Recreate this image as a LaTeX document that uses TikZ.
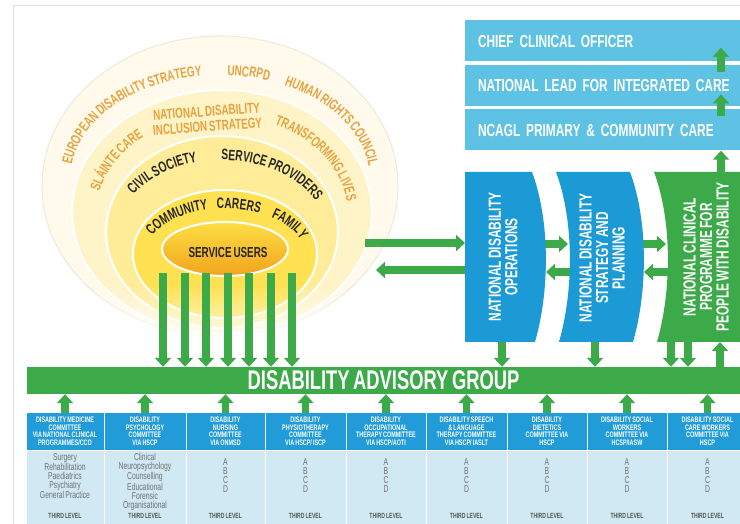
\documentclass[tikz,border=0pt]{standalone}
\usepackage{fontspec}
\setmainfont{Liberation Sans}
\newfontfamily\cond{Liberation Sans}[FakeStretch=0.68, WordSpace=0.7]
\usetikzlibrary{arrows.meta,decorations.text,fadings}
\definecolor{grn}{HTML}{3DAA49}
\definecolor{dblue}{HTML}{1C9AD6}
\definecolor{lblue}{HTML}{5EC2E4}
\definecolor{hblue}{HTML}{219CD8}
\definecolor{pblue}{HTML}{D0E9F3}
\definecolor{ringor}{HTML}{E9A23B}
\definecolor{ringdk}{HTML}{262626}
\definecolor{bgray}{HTML}{707070}
\definecolor{tlgray}{HTML}{555555}
\definecolor{ringA}{HTML}{FFFAEB}
\definecolor{ringAe}{HTML}{EFE9D9}
\definecolor{ringB}{HTML}{FFF3C8}
\definecolor{ringC}{HTML}{FFEC98}
\definecolor{ringD}{HTML}{FFE152}
\definecolor{suTop}{HTML}{FDDF45}
\definecolor{suBot}{HTML}{F2A31C}
\newcommand\rfo{\cond\bfseries\fontsize{14.5}{14.5}\selectfont\color{ringor}}
\newcommand\rfd{\cond\bfseries\fontsize{15}{15}\selectfont\color{ringdk}}
\begin{document}
\begin{tikzpicture}[x=1pt,y=1pt,
 garrow/.style={draw=grn, line width=7.5pt, -{Triangle[width=16pt,length=9pt]}},
 topbox/.style={fill=lblue, minimum width=288pt, minimum height=41pt, text width=262pt, inner xsep=13pt, inner ysep=0pt, align=left, text=white, font=\cond\bfseries\fontsize{17.5}{17.5}\selectfont},
 vtext/.style={rotate=90, align=center, text=white, font=\cond\bfseries\fontsize{17.5}{16.5}\selectfont},
 hdr/.style={fill=hblue, minimum height=37pt, inner sep=0pt},
 bod/.style={fill=pblue, minimum height=78pt, inner sep=0pt},
 htext/.style={align=center, text=white, font=\cond\bfseries\fontsize{8}{7.5}\selectfont, inner sep=0pt},
 btext/.style={align=center, text=bgray, font=\cond\fontsize{10}{9}\selectfont, inner sep=0pt, anchor=north},
 tl/.style={text=tlgray, font=\cond\bfseries\fontsize{7.5}{8}\selectfont, inner sep=0pt},
 ringlbl/.style={align=center, text=ringor, font=\cond\bfseries\fontsize{14.5}{15}\selectfont},
 bar/.style={fill=grn, minimum width=713pt, minimum height=27pt, inner sep=0pt, text=white, font=\cond\bfseries\fontsize{27}{27}\selectfont},
]
\useasboundingbox (0,0) rectangle (740,524);
\fill[white] (0,0) rectangle (740,524);
\draw[black!12, line width=1pt] (13,0) -- (13,518) -- (740,518);

% rings
\path[fill=ringA, draw=ringAe, line width=1pt] (220,338) ellipse [x radius=178, y radius=150];
\path[fill=ringB, draw=white, line width=2pt] (222,312) ellipse [x radius=150, y radius=122];
\path[fill=ringC, draw=white, line width=2pt] (222,292) ellipse [x radius=116, y radius=96];
\path[fill=ringD, draw=white, line width=2pt] (225,270) ellipse [x radius=92, y radius=64];
\fill[white, path fading=north] (30,168) rectangle (412,240);
\path[draw=white, line width=2pt, top color=suTop, bottom color=suBot] (225,275) ellipse [x radius=63, y radius=27];
\node[font=\cond\bfseries\fontsize{14.5}{14.5}\selectfont, text=ringdk] (su) at (228,271.5) {SERVICE USERS};

\coordinate (oc) at (220,344);
\coordinate (bc) at (222,309);
\coordinate (cc) at (222,289);
\coordinate (dc) at (225,269);
\path[decorate, decoration={text along path, text align=center, text={|\rfo|EUROPEAN DISABILITY STRATEGY}}]
  ([shift={(190:150 and 105)}]oc) arc[start angle=190, end angle=84, x radius=150, y radius=105];
\path[decorate, decoration={text along path, text align=center, text={|\rfo|UNCRPD}}]
  ([shift={(92:150 and 105)}]oc) arc[start angle=92, end angle=66, x radius=150, y radius=105];
\path[decorate, decoration={text along path, text align=center, text={|\rfo|HUMAN RIGHTS COUNCIL}}]
  ([shift={(70:150 and 105)}]oc) arc[start angle=70, end angle=0, x radius=150, y radius=105];
\path[decorate, decoration={text along path, text align=center, text={|\rfo|SLÁINTE CARE}}]
  ([shift={(174:126 and 100)}]bc) arc[start angle=174, end angle=122, x radius=126, y radius=100];
\path[decorate, decoration={text along path, text align=center, text={|\rfo|TRANSFORMING LIVES}}]
  ([shift={(70:126 and 100)}]bc) arc[start angle=70, end angle=2, x radius=126, y radius=100];
\node[ringlbl, rotate=4] (ndis) at (207,405) {NATIONAL DISABILITY\\INCLUSION STRATEGY};
\path[decorate, decoration={text along path, text align=center, text={|\rfd|CIVIL SOCIETY}}]
  ([shift={(152:105 and 75)}]cc) arc[start angle=152, end angle=100, x radius=105, y radius=75];
\path[decorate, decoration={text along path, text align=center, text={|\rfd|SERVICE PROVIDERS}}]
  ([shift={(94:105 and 75)}]cc) arc[start angle=94, end angle=22, x radius=105, y radius=75];
\path[decorate, decoration={text along path, text align=center, text={|\rfd|COMMUNITY}}]
  ([shift={(162:80 and 46.5)}]dc) arc[start angle=162, end angle=98, x radius=80, y radius=46.5];
\path[decorate, decoration={text along path, text align=center, text={|\rfd|CARERS}}]
  ([shift={(98:80 and 46.5)}]dc) arc[start angle=98, end angle=62, x radius=80, y radius=46.5];
\path[decorate, decoration={text along path, text align=center, text={|\rfd|FAMILY}}]
  ([shift={(58:80 and 46.5)}]dc) arc[start angle=58, end angle=14, x radius=80, y radius=46.5];

% advisory bar
\node[bar] (dag) at (383.5,143.5) {DISABILITY ADVISORY GROUP};

% horizontal arrows (under boxes)
\coordinate (rA) at (365,281);
\coordinate (rB) at (376,254);
\coordinate (b1L) at (465,281);
\coordinate (b1in) at (482,254);
\coordinate (b1inR) at (528,280);
\coordinate (b2L) at (568,280);
\coordinate (b2in) at (585,252);
\coordinate (b1R) at (546,252);
\coordinate (b2inR) at (622,280);
\coordinate (b3L) at (666,280);
\coordinate (b3in) at (685,252);
\coordinate (b2R) at (644,252);
\draw[garrow] (rA) -- (b1L);
\draw[garrow] (b1in) -- (rB);
\draw[garrow] (b1inR) -- (b2L);
\draw[garrow] (b2in) -- (b1R);
\draw[garrow] (b2inR) -- (b3L);
\draw[garrow] (b3in) -- (b2R);

% wavy boxes
\fill[dblue] (465,352) -- (532,352) .. controls (550,304) and (550,234) .. (535,182) -- (465,182) -- cycle;
\fill[dblue] (556,352) .. controls (574,304) and (574,234) .. (559,182) -- (633,182) .. controls (648,234) and (648,304) .. (630,352) -- cycle;
\fill[grn] (654,352) .. controls (672,304) and (672,234) .. (657,182) -- (740,182) -- (740,352) -- cycle;
\node[vtext] (ndo) at (503,267) {NATIONAL DISABILITY\\OPERATIONS};
\node[vtext] (ndsp) at (602,266) {NATIONAL DISABILITY\\STRATEGY AND\\PLANNING};
\node[vtext] (ncp) at (706,267) {NATIONAL CLINICAL\\PROGRAMME FOR\\PEOPLE WITH DISABILITY};

% top boxes
\node[topbox] (cco) at (609,483) {CHIEF CLINICAL OFFICER};
\node[topbox] (nlic) at (609,438.5) {NATIONAL LEAD FOR INTEGRATED CARE};
\node[topbox] (ncagl) at (609,394) {NCAGL PRIMARY \& COMMUNITY CARE};

% up arrows on the right
\coordinate (gt) at (721,352);
\draw[garrow] (gt) -- (gt |- ncagl.south);
\draw[garrow] ([yshift=-7pt]gt |- ncagl.north) -- ([yshift=15pt]gt |- ncagl.north);
\draw[garrow] ([yshift=-7pt]gt |- nlic.north) -- ([yshift=17pt]gt |- nlic.north);

% arrows from boxes to the advisory bar
\coordinate (d1) at (502,182);
\coordinate (d2) at (595,182);
\coordinate (d3) at (671,182);
\coordinate (d4) at (688,182);
\coordinate (u5) at (720,182);
\foreach \d in {d1,d2,d3,d4} \draw[garrow] (\d) -- (\d |- dag.north);
\draw[garrow] (u5 |- dag.north) -- (u5);

% arrows from service users
\foreach \x [count=\i] in {163,185,206,228,249,271,292} {
  \coordinate (su\i) at (\x,251);
  \draw[garrow] (su\i) -- (su\i |- dag.north);
}

% committees
\foreach \c/\w [count=\i] in {65/77,145/81,225.5/78,305.5/80,386/79,466.5/80,547/79,627/79,707.5/80} {
  \node[hdr, minimum width=\w pt] (h\i) at (\c,92.5) {};
  \node[bod, minimum width=\w pt] (bd\i) at (\c,34) {};
  \draw[garrow] (h\i.north) -- (h\i.north |- dag.south);
  \node[tl] (tl\i) at (\c,8) {THIRD LEVEL};
}
\node[htext] (ht1) at (h1) {DISABILITY MEDICINE\\COMMITTEE\\VIA NATIONAL CLINICAL\\PROGRAMMES/CCO};
\node[htext] (ht2) at (h2) {DISABILITY\\PSYCHOLOGY\\COMMITTEE\\VIA HSCP};
\node[htext] (ht3) at (h3) {DISABILITY\\NURSING\\COMMITTEE\\VIA ONMSD};
\node[htext] (ht4) at (h4) {DISABILITY\\PHYSIOTHERAPY\\COMMITTEE\\VIA HSCP/ ISCP};
\node[htext] (ht5) at (h5) {DISABILITY\\OCCUPATIONAL\\THERAPY COMMITTEE\\VIA HSCP/AOTI};
\node[htext] (ht6) at (h6) {DISABILITY SPEECH\\\& LANGUAGE\\THERAPY COMMITTEE\\VIA HSCP/ IASLT};
\node[htext] (ht7) at (h7) {DISABILITY\\DIETETICS\\COMMITTEE VIA\\HSCP};
\node[htext] (ht8) at (h8) {DISABILITY SOCIAL\\WORKERS\\COMMITTEE VIA\\HCSP/IASW};
\node[htext] (ht9) at (h9) {DISABILITY SOCIAL\\CARE WORKERS\\COMMITTEE VIA\\HSCP};

\node[btext] (bt1) at (65,71) {Surgery\\Rehabilitation\\Paediatrics\\Psychiatry\\General Practice};
\node[btext] (bt2) at (145,71) {Clinical\\Neuropsychology\\Counselling\\Educational\\Forensic\\Organisational};
\foreach \c [count=\i from 3] in {225.5,305.5,386,466.5,547,627,707.5}
  \node[btext] (bt\i) at (\c,66) {A\\B\\C\\D};
\end{tikzpicture}
\end{document}
